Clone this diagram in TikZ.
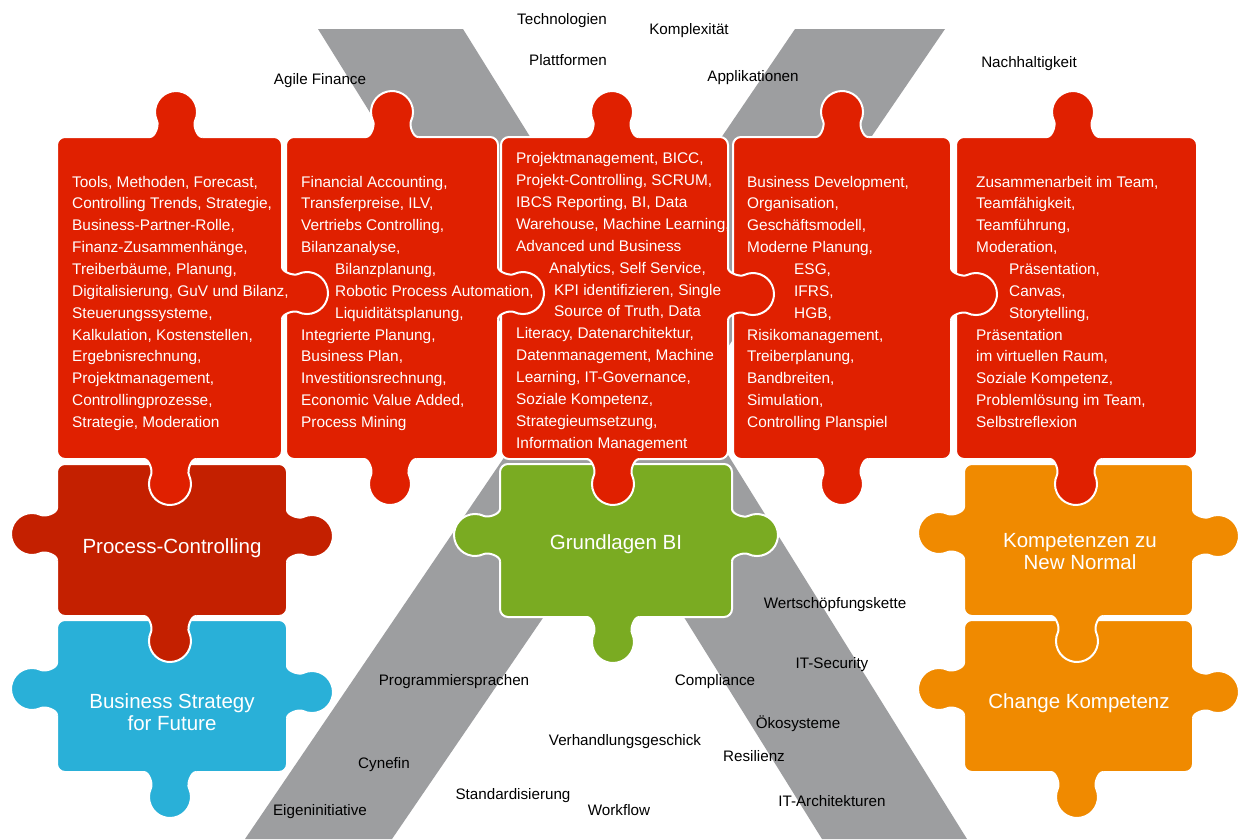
\documentclass[tikz,border=0pt]{standalone}
\usepackage{fontspec}
\setmainfont{Liberation Sans}
\definecolor{pred}{HTML}{E02000}
\definecolor{pdark}{HTML}{C42000}
\definecolor{pcyan}{HTML}{29B0D8}
\definecolor{pgreen}{HTML}{7AAB22}
\definecolor{porange}{HTML}{F08A00}
\definecolor{xgray}{HTML}{9D9EA0}
\newcommand{\pzknob}[4]{%
 \begin{scope}[shift={(#1,#2)}, rotate=#3]
  \fill[#4] (-5,-26) -- (0,-26) .. controls (0,-21) and (11.6,-16.9) .. (16.1,-19)
     arc[start angle=-115,end angle=115,radius=21]
     .. controls (11.6,16.9) and (0,21) .. (0,26) -- (-5,26) -- cycle;
  \draw[white, line width=2pt] (0,-26) .. controls (0,-21) and (11.6,-16.9) .. (16.1,-19)
     arc[start angle=-115,end angle=115,radius=21]
     .. controls (11.6,16.9) and (0,21) .. (0,26);
 \end{scope}}
\newcommand{\pzbody}[5]{%
  \filldraw[fill=#5, draw=white, line width=2pt, rounded corners=8pt] (#1,#2) rectangle (#3,#4);}
\tikzset{
  boxtext/.style={text=white, align=left, anchor=base west, inner sep=0pt, font=\fontsize{15.4}{21.85}\selectfont},
  bigtext/.style={text=white, align=center, anchor=base, inner sep=0pt, font=\fontsize{20.5}{21.5}\selectfont},
  lbl/.style={text=black, anchor=base, inner sep=0pt, font=\fontsize{15.2}{17}\selectfont}
}
\begin{document}
\begin{tikzpicture}[x=1pt,y=-1pt]
\useasboundingbox (0,0) rectangle (1248,839);
\fill[white] (0,0) rectangle (1248,839);
% gray X
\begin{scope}
\clip (0,0) rectangle (1248,839);
\fill[xgray] (318,29) -- (463,29) -- (967,839) -- (822,839) -- cycle;
\fill[xgray] (795,29) -- (945,29) -- (392,839) -- (245,839) -- cycle;
\end{scope}
% bodies
\pzbody{57}{137}{282}{459}{pred}
\pzbody{286}{137}{498}{459}{pred}
\pzbody{501}{137}{728}{459}{pred}
\pzbody{733}{137}{951}{459}{pred}
\pzbody{956}{137}{1197}{459}{pred}
\pzbody{57}{464}{287}{616}{pdark}
\pzbody{57}{620}{287}{772}{pcyan}
\pzbody{500}{464}{732}{617}{pgreen}
\pzbody{964}{464}{1193}{616}{porange}
\pzbody{964}{620}{1193}{772}{porange}
% knobs of lower pieces
\pzknob{57}{534}{180}{pdark}
\pzknob{287}{536}{0}{pdark}
\pzknob{170}{616}{-90}{pdark}
\pzknob{57}{689}{180}{pcyan}
\pzknob{287}{692}{0}{pcyan}
\pzknob{170}{772}{-90}{pcyan}
\pzknob{500}{535}{180}{pgreen}
\pzknob{732}{535}{0}{pgreen}
\pzknob{613}{617}{-90}{pgreen}
\pzknob{964}{533}{180}{porange}
\pzknob{1193}{536}{0}{porange}
\pzknob{1077}{616}{-90}{porange}
\pzknob{964}{689}{180}{porange}
\pzknob{1193}{692}{0}{porange}
\pzknob{1077}{772}{-90}{porange}
% knobs of top pieces
\pzknob{176}{137}{90}{pred}
\pzknob{282}{293}{0}{pred}
\pzknob{170}{459}{-90}{pred}
\pzknob{392}{137}{90}{pred}
\pzknob{498}{293}{0}{pred}
\pzknob{390}{459}{-90}{pred}
\pzknob{612}{137}{90}{pred}
\pzknob{728}{294}{0}{pred}
\pzknob{613}{459}{-90}{pred}
\pzknob{842}{137}{90}{pred}
\pzknob{951}{294}{0}{pred}
\pzknob{842}{459}{-90}{pred}
\pzknob{1073}{137}{90}{pred}
\pzknob{1076}{459}{-90}{pred}
% box texts (anchor = baseline of last line)
\node[boxtext] (t1) at (72,427.4) {Tools, Methoden, Forecast,\\Controlling Trends, Strategie,\\Business-Partner-Rolle,\\Finanz-Zusammenhänge,\\Treiberbäume, Planung,\\Digitalisierung, GuV und Bilanz,\\Steuerungssysteme,\\Kalkulation, Kostenstellen,\\Ergebnisrechnung,\\Projektmanagement,\\Controllingprozesse,\\Strategie, Moderation};
\node[boxtext] (t2) at (301,427.4) {Financial Accounting,\\Transferpreise, ILV,\\Vertriebs Controlling,\\Bilanzanalyse,\\\hspace*{34pt}Bilanzplanung,\\\hspace*{34pt}Robotic Process Automation,\\\hspace*{34pt}Liquiditätsplanung,\\Integrierte Planung,\\Business Plan,\\Investitionsrechnung,\\Economic Value Added,\\Process Mining};
\node[boxtext] (t3) at (516,448) {Projektmanagement, BICC,\\Projekt-Controlling, SCRUM,\\IBCS Reporting, BI, Data\\Warehouse, Machine Learning,\\Advanced und Business\\\hspace*{33pt}Analytics, Self Service,\\\hspace*{38pt}KPI identifizieren, Single\\\hspace*{38pt}Source of Truth, Data\\Literacy, Datenarchitektur,\\Datenmanagement, Machine\\Learning, IT-Governance,\\Soziale Kompetenz,\\Strategieumsetzung,\\Information Management};
\node[boxtext] (t4) at (747,427.4) {Business Development,\\Organisation,\\Geschäftsmodell,\\Moderne Planung,\\\hspace*{47pt}ESG,\\\hspace*{47pt}IFRS,\\\hspace*{47pt}HGB,\\Risikomanagement,\\Treiberplanung,\\Bandbreiten,\\Simulation,\\Controlling Planspiel};
\node[boxtext] (t5) at (976,427.4) {Zusammenarbeit im Team,\\Teamfähigkeit,\\Teamführung,\\Moderation,\\\hspace*{33pt}Präsentation,\\\hspace*{33pt}Canvas,\\\hspace*{33pt}Storytelling,\\Präsentation\\im virtuellen Raum,\\Soziale Kompetenz,\\Problemlösung im Team,\\Selbstreflexion};
% big labels (anchor = baseline of last line)
\node[bigtext] (pc) at (172,553) {Process-Controlling};
\node[bigtext] (bs) at (172,730) {Business Strategy\\for Future};
\node[bigtext] (gb) at (616,549) {Grundlagen BI};
\node[bigtext] (kn) at (1080,569) {Kompetenzen zu\\New Normal};
\node[bigtext] (ck) at (1079,708) {Change Kompetenz};
% labels
\node[lbl] (l1) at (562,24) {Technologien};
\node[lbl] (l2) at (689,34) {Komplexität};
\node[lbl] (l3) at (568,65) {Plattformen};
\node[lbl] (l4) at (753,81) {Applikationen};
\node[lbl] (l5) at (320,84) {Agile Finance};
\node[lbl] (l6) at (1029,67) {Nachhaltigkeit};
\node[lbl] (l7) at (835,608) {Wertschöpfungskette};
\node[lbl] (l8) at (832,668) {IT-Security};
\node[lbl] (l9) at (715,685) {Compliance};
\node[lbl] (l10) at (454,685) {Programmiersprachen};
\node[lbl] (l11) at (798,728) {Ökosysteme};
\node[lbl] (l12) at (625,745) {Verhandlungsgeschick};
\node[lbl] (l13) at (754,761) {Resilienz};
\node[lbl] (l14) at (384,768) {Cynefin};
\node[lbl] (l15) at (513,799) {Standardisierung};
\node[lbl] (l16) at (619,815) {Workflow};
\node[lbl] (l17) at (832,806) {IT-Architekturen};
\node[lbl] (l18) at (320,815) {Eigeninitiative};
\end{tikzpicture}
\end{document}
